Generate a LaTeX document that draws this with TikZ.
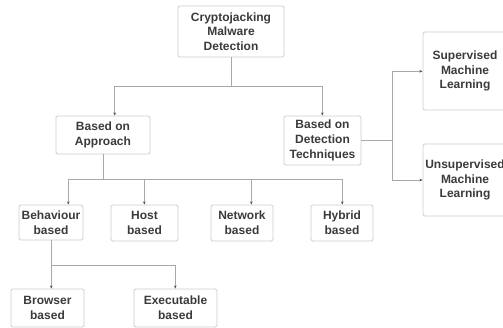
\documentclass[tikz,border=0pt]{standalone}
\usepackage{fontspec}
\setmainfont{Liberation Sans}
\usetikzlibrary{arrows.meta}
\definecolor{txt}{HTML}{3B3B3B}
\definecolor{bord}{HTML}{CCCCCC}
\definecolor{lin}{HTML}{A8A8A8}
\definecolor{tip}{HTML}{555555}
\begin{document}
\begin{tikzpicture}[x=1pt,y=-1pt,
  box/.style={draw=bord,line width=0.8pt,rounded corners=1.5pt,fill=white,
    align=center,text=txt,font=\bfseries\fontsize{12}{14.7}\selectfont,
    inner sep=0pt},
  conn/.style={draw=lin,line width=0.8pt},
  arr/.style={conn,-{Stealth[length=3.2pt,width=2.6pt,color=tip]}}]
\useasboundingbox (0,0) rectangle (503,328);
\node[box,minimum width=106pt,minimum height=51pt] (top) at (231,31.5) {Cryptojacking\\Malware\\Detection};
\node[box,minimum width=94pt,minimum height=38pt] (appr) at (103,135) {Based on\\Approach};
\node[box,minimum width=77pt,minimum height=49pt] (det) at (322.5,140.5) {Based on\\Detection\\Techniques};
\node[box,minimum width=84pt,minimum height=78pt] (sup) at (465,71) {Supervised\\Machine\\Learning};
\node[box,minimum width=84pt,minimum height=72pt] (unsup) at (465,180) {Unsupervised\\Machine\\Learning};
\node[box,minimum width=64pt,minimum height=35pt] (behav) at (51,222.5) {Behaviour\\based};
\node[box,minimum width=67pt,minimum height=36pt] (host) at (144.5,223) {Host\\based};
\node[box,minimum width=62pt,minimum height=36pt] (net) at (242,223) {Network\\based};
\node[box,minimum width=62pt,minimum height=36pt] (hyb) at (342,223) {Hybrid\\based};
\node[box,minimum width=73pt,minimum height=38pt] (brow) at (47.5,308) {Browser\\based};
\node[box,minimum width=83pt,minimum height=38pt] (exe) at (175.5,308) {Executable\\based};
% top junction
\coordinate (t1) at (114.7,86.5);
\coordinate (t2) at (322.3,86.5);
\draw[conn] (top.south) -- (top.south |- t1);
\draw[conn] (t1) -- (t2);
\draw[arr] (t1) -- (t1 |- appr.north);
\draw[arr] (t2) -- (t2 |- det.north);
% approach junction
\coordinate (a1) at (68.3,179.5);
\coordinate (a2) at (144.3,179.5);
\coordinate (a3) at (251.3,179.5);
\coordinate (a4) at (342.3,179.5);
\draw[conn] (appr.south) -- (appr.south |- a1);
\draw[conn] (a1) -- (a4);
\draw[arr] (a1) -- (a1 |- behav.north);
\draw[arr] (a2) -- (a2 |- host.north);
\draw[arr] (a3) -- (a3 |- net.north);
\draw[arr] (a4) -- (a4 |- hyb.north);
% detection junction
\coordinate (d0) at (392.3,140);
\coordinate (d1) at (392.3,71.3);
\coordinate (d2) at (392.3,180);
\draw[conn] (det.east |- d0) -- (d0);
\draw[conn] (d1) -- (d2);
\draw[arr] (d1) -- (d1 -| sup.west);
\draw[arr] (d2) -- (d2 -| unsup.west);
% behaviour junction
\coordinate (b1) at (51.3,265);
\coordinate (b2) at (175.3,265);
\draw[conn] (behav.south -| b1) -- (b1);
\draw[conn] (b1) -- (b2);
\draw[arr] (b1) -- (b1 |- brow.north);
\draw[arr] (b2) -- (b2 |- exe.north);
\end{tikzpicture}
\end{document}
